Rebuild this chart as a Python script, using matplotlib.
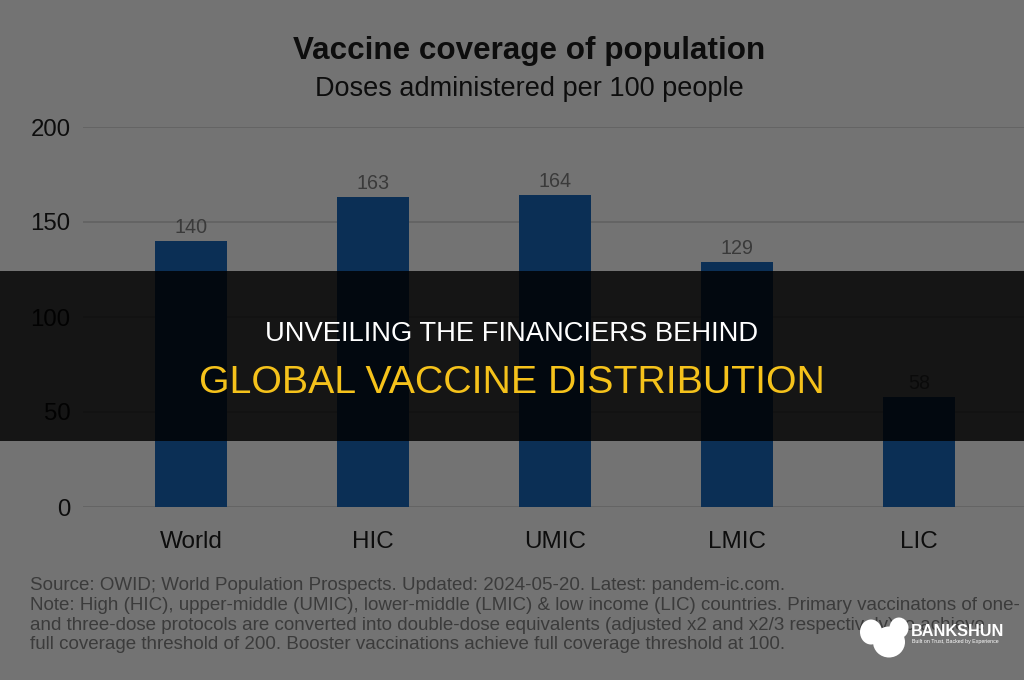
import matplotlib
matplotlib.use("Agg")
import matplotlib.pyplot as plt
from matplotlib.patches import Rectangle, Ellipse

# ---- data ----
categories = ["World", "HIC", "UMIC", "LMIC", "LIC"]
values = [140, 163, 164, 129, 58]
yticks = [0, 50, 100, 150, 200]

title = "Vaccine coverage of population"
subtitle = "Doses administered per 100 people"
footer_lines = [
    "Source: OWID; World Population Prospects. Updated: 2024-05-20. Latest: pandem-ic.com.",
    "Note: High (HIC), upper-middle (UMIC), lower-middle (LMIC) & low income (LIC) countries. Primary vaccinatons of one-",
    "and three-dose protocols are converted into double-dose equivalents (adjusted x2 and x2/3 respectively) to achieve",
    "full coverage threshold of 200. Booster vaccinations achieve full coverage threshold at 100.",
]
banner_line1 = "UNVEILING THE FINANCIERS BEHIND"
banner_line2 = "GLOBAL VACCINE DISTRIBUTION"
brand = "BANKSHUN"
tagline = "Built on Trust, Backed by Experience"

plt.rcParams['font.family'] = ['Liberation Sans', 'DejaVu Sans']

W, H = 1024, 680
BG = "#737373"
BAR = "#0b2f55"

fig = plt.figure(figsize=(W / 100, H / 100), dpi=100)
fig.patch.set_facecolor(BG)

# main chart axes: x from px 83 to 1024, y=0 at px 507, y=200 at px 127
ax = fig.add_axes([83 / W, 1 - 507 / H, (W - 83) / W, 380 / H])
ax.set_facecolor(BG)
x = list(range(len(categories)))
ax.bar(x, values, width=0.40, color=BAR, zorder=2)
ax.set_xlim(-0.5934, -0.5934 + (W - 83) / 182)
ax.set_ylim(0, 200)
ax.set_yticks(yticks)
ax.set_yticklabels([str(v) for v in yticks])
ax.set_xticks(x)
ax.set_xticklabels(categories)
ax.grid(axis='y', color="#626262", linewidth=1.2, zorder=1)
ax.tick_params(axis='y', length=0, pad=9, labelsize=17.3, labelcolor="#0d0d0d")
ax.tick_params(axis='x', length=0, pad=17, labelsize=17.5, labelcolor="#0d0d0d")
for s in ax.spines.values():
    s.set_visible(False)
for xi, v in zip(x, values):
    ax.annotate(str(v), (xi, v), xytext=(0, 3), textcoords='offset points',
                ha='center', va='bottom', fontsize=14.2, color="#3a3a3a")

# overlay axes in pixel coordinates
ov = fig.add_axes([0, 0, 1, 1], zorder=10)
ov.set_xlim(0, W)
ov.set_ylim(H, 0)
ov.axis('off')
ov.patch.set_alpha(0)

ov.text(529, 59, title, ha='center', va='baseline', fontsize=22.6,
        fontweight='bold', color="#0d0d0d")
ov.text(529, 96, subtitle, ha='center', va='baseline', fontsize=19.5,
        color="#0d0d0d")

for i, line in enumerate(footer_lines):
    ov.text(30, 590 + i * 19.8, line, ha='left', va='baseline', fontsize=13.5,
            color="#3b3b3b", zorder=1)

# dark banner
ov.add_patch(Rectangle((0, 271), W, 170, facecolor="black", alpha=0.82,
                       edgecolor='none', zorder=3))
ov.text(512, 334, banner_line1, ha='center', va='center', fontsize=19.7,
        color="white", zorder=4)
ov.text(512, 383, banner_line2, ha='center', va='center', fontsize=28.3,
        color="#f5c21b", zorder=4)

# logo
for (cx, cy, w, h) in [(871, 632, 22, 25), (899, 628, 19, 21), (889, 642, 32, 31)]:
    ov.add_patch(Ellipse((cx, cy), w, h, facecolor="white", edgecolor='none', zorder=5))
ov.text(911, 631, brand, ha='left', va='center', fontsize=11.7,
        fontweight='bold', color="white", zorder=5)
ov.text(912, 641, tagline, ha='left', va='center', fontsize=3.8,
        color="white", zorder=5)

fig.savefig("out.png", dpi=100, facecolor=BG)
